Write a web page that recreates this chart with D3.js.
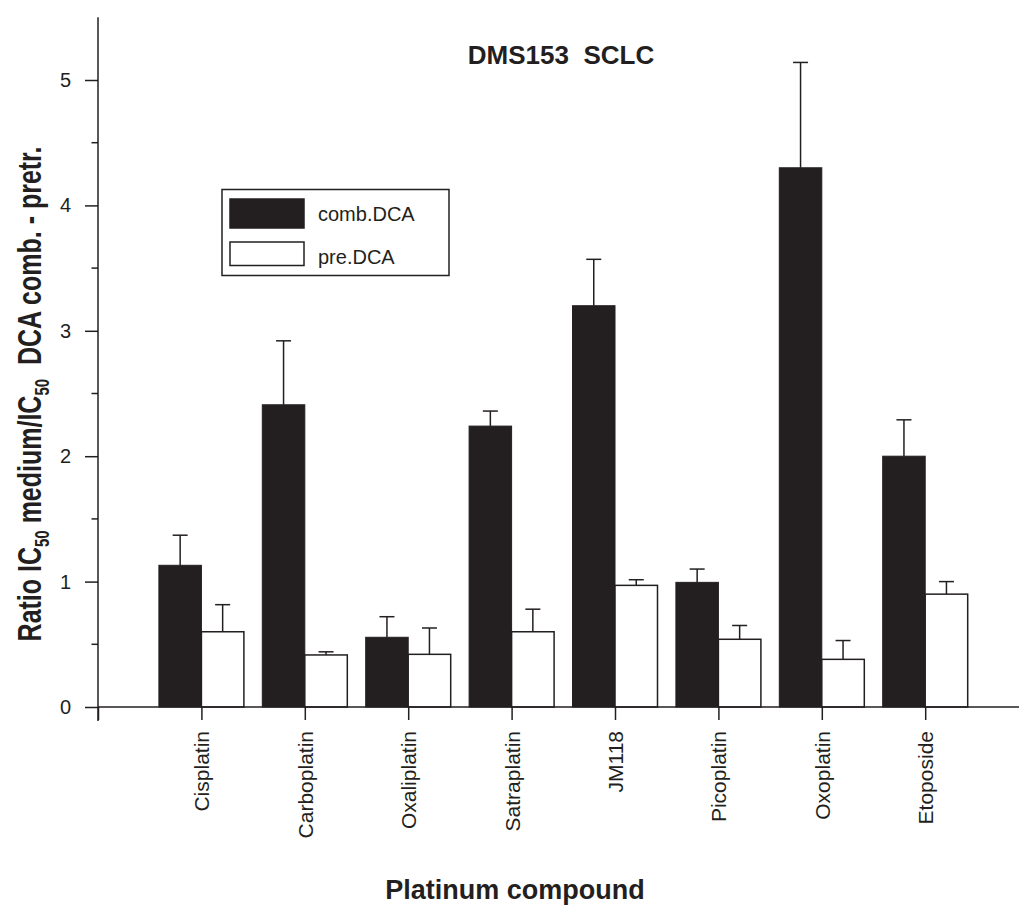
<!DOCTYPE html>
<html>
<head>
<meta charset="utf-8">
<script src="https://cdn.jsdelivr.net/npm/d3@7"></script>
<style>
  body { margin: 0; background: #fff; }
  text { font-family: "Liberation Sans", Arial, sans-serif; fill: #231f20; }
</style>
</head>
<body>
<div id="chart"></div>
<script>
const compounds = ["Cisplatin", "Carboplatin", "Oxaliplatin", "Satraplatin", "JM118", "Picoplatin", "Oxoplatin", "Etoposide"];
const combDCA = [1.13, 2.41, 0.556, 2.24, 3.20, 0.994, 4.30, 2.00];
const combErr = [0.24, 0.51, 0.164, 0.12, 0.37, 0.106, 0.84, 0.29];
const preDCA = [0.60, 0.415, 0.42, 0.60, 0.97, 0.54, 0.38, 0.90];
const preErr = [0.216, 0.025, 0.21, 0.18, 0.045, 0.11, 0.15, 0.10];
const yTicks = [0, 1, 2, 3, 4, 5];
const yMinor = [0.5, 1.5, 2.5, 3.5, 4.5];

const W = 1019, H = 907;
const ink = "#231f20";

const svg = d3.select("#chart").append("svg")
  .attr("width", W).attr("height", H);

// scales: categories sit at 1..8, axis starts at 0
const x = d3.scaleLinear().domain([0, 9]).range([98, 98 + 9 * 103.4]);
const y = d3.scaleLinear().domain([0, 5.5]).range([707, 707 - 5.5 * 125.4]);
const barW = 0.411; // in category units

const data = compounds.map((c, i) => ({
  name: c, pos: i + 1,
  comb: combDCA[i], combE: combErr[i],
  pre: preDCA[i], preE: preErr[i]
}));

// bars
const g = svg.append("g");
g.selectAll("rect.comb").data(data).enter().append("rect")
  .attr("class", "comb")
  .attr("x", d => x(d.pos - barW))
  .attr("width", d => x(d.pos) - x(d.pos - barW))
  .attr("y", d => y(d.comb))
  .attr("height", d => y(0) - y(d.comb))
  .attr("fill", ink)
  .attr("stroke", ink).attr("stroke-width", 1);

g.selectAll("rect.pre").data(data).enter().append("rect")
  .attr("class", "pre")
  .attr("x", d => x(d.pos))
  .attr("width", d => x(d.pos + barW) - x(d.pos))
  .attr("y", d => y(d.pre))
  .attr("height", d => y(0) - y(d.pre))
  .attr("fill", "#fff")
  .attr("stroke", ink).attr("stroke-width", 1.5);

// error bars (upper only)
function errBars(cls, valKey, errKey, offset) {
  const eg = g.selectAll("g." + cls).data(data).enter().append("g").attr("class", cls);
  eg.append("line")
    .attr("x1", d => x(d.pos + offset)).attr("x2", d => x(d.pos + offset))
    .attr("y1", d => y(d[valKey])).attr("y2", d => y(d[valKey] + d[errKey]))
    .attr("stroke", ink).attr("stroke-width", 1.5);
  eg.append("line")
    .attr("x1", d => x(d.pos + offset) - 7.5).attr("x2", d => x(d.pos + offset) + 7.5)
    .attr("y1", d => y(d[valKey] + d[errKey])).attr("y2", d => y(d[valKey] + d[errKey]))
    .attr("stroke", ink).attr("stroke-width", 1.5);
}
errBars("ecomb", "comb", "combE", -barW / 2);
errBars("epre", "pre", "preE", barW / 2);

// y axis
const yAxis = d3.axisLeft(y).tickValues(yTicks).tickSize(13).tickSizeOuter(0).tickPadding(14)
  .tickFormat(d3.format("d"));
const ya = svg.append("g").attr("transform", `translate(${x(0)},0)`).call(yAxis);
ya.select(".domain").remove();
ya.selectAll(".tick line").attr("stroke", ink).attr("stroke-width", 1.5);
ya.selectAll(".tick text").attr("font-size", 20).style("fill", ink);
ya.append("line")
  .attr("x1", 0).attr("x2", 0)
  .attr("y1", y(5.5)).attr("y2", y(0) + 14)
  .attr("stroke", ink).attr("stroke-width", 1.5);
yMinor.forEach(v => {
  ya.append("line")
    .attr("x1", -6.5).attr("x2", 0)
    .attr("y1", y(v)).attr("y2", y(v))
    .attr("stroke", ink).attr("stroke-width", 1.5);
});

// x axis
const xAxis = d3.axisBottom(x).tickValues(d3.range(0, 9)).tickSize(13).tickSizeOuter(0)
  .tickFormat(d => d === 0 ? "" : compounds[d - 1]);
const xa = svg.append("g").attr("transform", `translate(0,${y(0)})`).call(xAxis);
xa.select(".domain").remove();
xa.append("line")
  .attr("x1", x(0)).attr("x2", x(9))
  .attr("y1", 0).attr("y2", 0)
  .attr("stroke", ink).attr("stroke-width", 1.5);
xa.selectAll(".tick line").attr("stroke", ink).attr("stroke-width", 1.5);
xa.selectAll(".tick text")
  .attr("font-size", 21).style("fill", ink)
  .attr("text-anchor", "end")
  .attr("transform", "rotate(-90)")
  .attr("x", -24).attr("y", 0).attr("dy", "0.36em");

// titles
svg.append("text")
  .attr("x", 561).attr("y", 64)
  .attr("text-anchor", "middle")
  .attr("font-size", 26).attr("font-weight", "bold")
  .attr("xml:space", "preserve")
  .text("DMS153  SCLC");

svg.append("text")
  .attr("x", 515).attr("y", 899)
  .attr("text-anchor", "middle")
  .attr("font-size", 27).attr("font-weight", "bold")
  .text("Platinum compound");

const yt = svg.append("text")
  .attr("transform", "translate(41,394) scale(1.3,1) rotate(-90)")
  .attr("text-anchor", "middle")
  .attr("font-size", 25).attr("font-weight", "bold")
  .attr("xml:space", "preserve");
yt.append("tspan").text("Ratio IC");
yt.append("tspan").attr("font-size", 15).attr("dy", 6).text("50");
yt.append("tspan").attr("dy", -6).text(" medium/IC");
yt.append("tspan").attr("font-size", 15).attr("dy", 6).text("50");
yt.append("tspan").attr("dy", -6).text("  DCA comb. - pretr.");

// legend
const lg = svg.append("g");
lg.append("rect").attr("x", 222).attr("y", 189.5).attr("width", 227).attr("height", 86)
  .attr("fill", "#fff").attr("stroke", ink).attr("stroke-width", 1.5);
const legendItems = [
  { label: "comb.DCA", fill: ink, y: 199, h: 29 },
  { label: "pre.DCA", fill: "#fff", y: 242, h: 23.5 }
];
legendItems.forEach(it => {
  lg.append("rect").attr("x", 230).attr("y", it.y).attr("width", 74).attr("height", it.h)
    .attr("fill", it.fill).attr("stroke", ink).attr("stroke-width", 1.5);
  lg.append("text").attr("x", 318).attr("y", it.y + 21.5)
    .attr("font-size", 20).text(it.label);
});
</script>
</body>
</html>
